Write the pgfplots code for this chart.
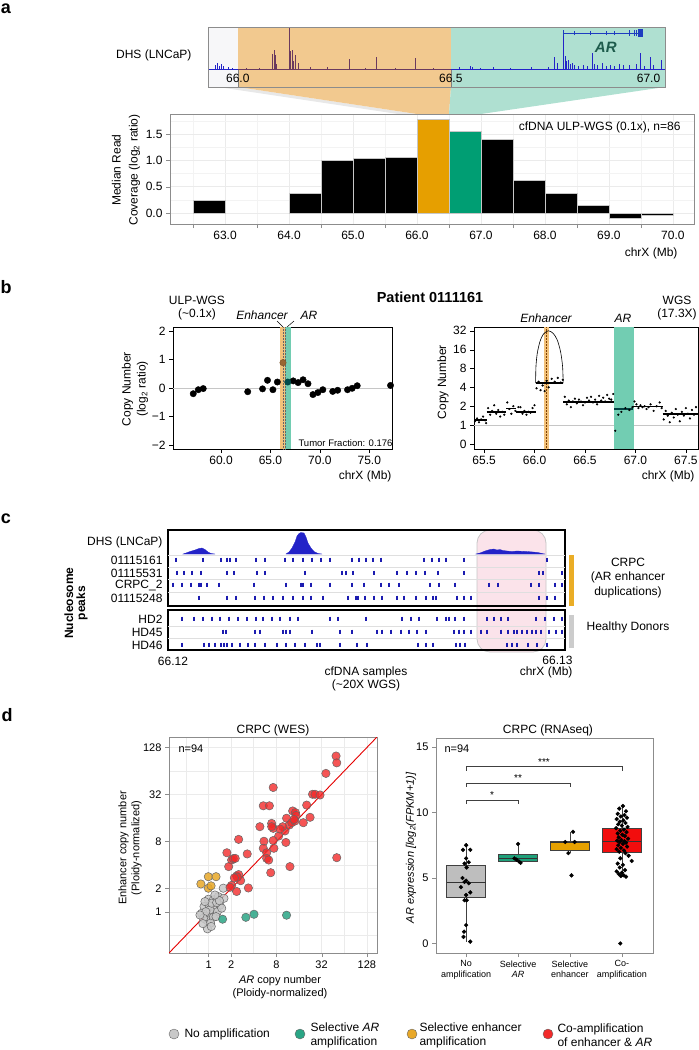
\documentclass[border=0pt]{standalone}
\usepackage{fontspec}
\setmainfont{Liberation Sans}
\setsansfont{Liberation Sans}
\usepackage{pgfplots}
\pgfplotsset{compat=1.18}
\newcommand{\fs}[2]{\fontsize{#1}{#2}\selectfont}
\definecolor{dhsblue}{HTML}{2323C8}
\definecolor{dhspurple}{HTML}{6B3A5E}
\definecolor{ofill}{HTML}{F2C98F}
\definecolor{tfill}{HTML}{AFE0D1}
\definecolor{wfill}{HTML}{F7F7F9}
\definecolor{barO}{HTML}{E69F00}
\definecolor{barT}{HTML}{009E73}
\definecolor{genecol}{HTML}{1E3CC0}
\definecolor{artext}{HTML}{1E5C4C}
\definecolor{stripO}{HTML}{F3C27A}
\definecolor{stripT}{HTML}{72CDB2}
\definecolor{nucblue}{HTML}{1C1CB0}
\definecolor{pinkfill}{HTML}{FBE3EA}
\definecolor{scGrey}{HTML}{C8C8C8}
\definecolor{scTeal}{HTML}{2AA585}
\definecolor{scOrange}{HTML}{E8A828}
\definecolor{scRed}{HTML}{F22A2A}
\definecolor{boxGrey}{HTML}{BEBEBE}
\definecolor{boxTeal}{HTML}{1FA07A}
\definecolor{boxOrange}{HTML}{E6A100}
\definecolor{boxRed}{HTML}{F20D0D}
\definecolor{frameGrey}{HTML}{8C8C8C}
\definecolor{gridGrey}{HTML}{EBEBEB}
\pgfplotsset{every axis/.append style={
  tick label style={font=\fs{12}{14}},
  tick align=outside, tick pos=left,
  major tick length=4pt,
  /pgf/number format/assume math mode=true}}
\newcommand{\pbar}[4]{\addplot[fill=#4, draw=black!22, line width=0.4pt] coordinates {(#1,0)(#1,#3)(#2,#3)(#2,0)} --cycle;}
% box: left, right, centre, lower whisker, q1, median, q3, upper whisker, colour
\newcommand{\mybox}[9]{%
 \addplot[black!75, line width=0.7pt] coordinates {(#3,#4)(#3,#5)};
 \addplot[black!75, line width=0.7pt] coordinates {(#3,#7)(#3,#8)};
 \addplot[fill=#9, draw=black!75, line width=0.7pt] coordinates {(#1,#5)(#1,#7)(#2,#7)(#2,#5)} --cycle;
 \addplot[black!80, line width=1.3pt] coordinates {(#1,#6)(#2,#6)};}
\begin{document}
\begin{tikzpicture}
\useasboundingbox (0pt,0pt) rectangle (699pt,-1050pt);
\begin{scope}[x=1pt,y=-1pt]
 \fill[gray!18] (218,87) -- (238,87) -- (417,114) -- (398,114) -- cycle;
 \fill[ofill] (238,87) -- (451,87) -- (449,114) -- (417,114) -- cycle;
 \fill[tfill] (451,87) -- (665,87) -- (481,114) -- (449,114) -- cycle;
 \draw[gray!45, fill=pinkfill, line width=0.8pt, rounded corners=13pt] (477,530) rectangle (546,652);
 \fill[barO!85] (569,555) rectangle (574,606);
 \fill[gray!40] (569,615) rectangle (574,648);
\end{scope}

% ---------- panel a: DHS track
\begin{axis}[at={(208pt,-27pt)}, anchor=north west, scale only axis, width=457pt, height=60pt,
  xmin=65.93, xmax=67.003, ymin=-0.43, ymax=1, ticks=none,
  axis line style={frameGrey, line width=0.9pt}, axis on top]
\addplot[fill=wfill, draw=none] coordinates {(65.93,-0.43)(65.93,1)(66,1)(66,-0.43)} --cycle;
\addplot[fill=ofill, draw=none] coordinates {(66,-0.43)(66,1)(66.5,1)(66.5,-0.43)} --cycle;
\addplot[fill=tfill, draw=none] coordinates {(66.5,-0.43)(66.5,1)(67.003,1)(67.003,-0.43)} --cycle;
\addplot[gray, line width=0.5pt] coordinates {(66,-0.43)(66,0)};
\addplot[gray, line width=0.5pt] coordinates {(66.5,-0.43)(66.5,0)};
\addplot[dhsblue, line width=0.6pt] coordinates {(65.93,0)(66,0)};
\addplot[dhspurple, line width=0.6pt] coordinates {(66,0)(66.5,0)};
\addplot[dhsblue, line width=0.6pt] coordinates {(66.5,0)(67.003,0)};
\addplot[ycomb, dhsblue, line width=0.6pt] coordinates {(65.948,0.10)(65.953,0.14)(65.957,0.08)(65.962,0.12)(65.967,0.06)(65.977,0.05)(65.988,0.03)};
\addplot[ycomb, dhspurple, line width=0.7pt] coordinates {(66.02,0.02)(66.05,0.02)(66.082,0.36)(66.085,0.45)(66.087,0.33)(66.09,0.12)(66.12,1.0)(66.122,0.55)(66.124,0.42)(66.127,0.45)(66.131,0.2)(66.136,0.33)(66.143,0.14)(66.17,0.04)(66.21,0.04)(66.263,0.24)(66.30,0.03)(66.326,0.28)(66.37,0.03)(66.418,0.25)(66.46,0.03)};
\addplot[ycomb, dhsblue, line width=0.6pt] coordinates {(66.52,0.04)(66.545,0.06)(66.55,0.05)(66.57,0.03)(66.60,0.04)(66.64,0.03)(66.69,0.04)(66.73,0.05)(66.742,0.28)(66.749,0.14)(66.765,0.857)(66.768,0.3)(66.771,0.18)(66.775,0.22)(66.78,0.12)(66.786,0.15)(66.79,0.1)(66.80,0.08)(66.81,0.1)(66.82,0.07)(66.833,0.38)(66.838,0.12)(66.845,0.1)(66.855,0.14)(66.865,0.08)(66.875,0.1)(66.885,0.07)(66.895,0.12)(66.905,0.09)(66.92,0.1)(66.935,0.12)(66.944,0.38)(66.955,0.08)(66.969,0.28)(66.975,0.1)(66.995,0.22)};
\addplot[genecol, line width=1pt] coordinates {(66.765,0.857)(66.948,0.857)};
\addplot[genecol, line width=0.8pt, unbounded coords=jump] coordinates {(66.765,0.79)(66.765,0.93)(66.765,nan)(66.79,0.80)(66.79,0.91)(66.79,nan)(66.828,0.80)(66.828,0.91)(66.828,nan)(66.865,0.80)(66.865,0.91)(66.865,nan)(66.884,0.80)(66.884,0.91)(66.884,nan)(66.92,0.79)(66.92,0.92)(66.92,nan)(66.93,0.78)(66.93,0.93)(66.93,nan)(66.937,0.78)(66.937,0.93)};
\addplot[fill=genecol, draw=genecol] coordinates {(66.94,0.77)(66.94,0.94)(66.95,0.94)(66.95,0.77)} --cycle;
\node[font=\bfseries\itshape\fs{15}{15}, text=artext] at (axis cs:66.864,0.524) {AR};
\node[font=\fs{12}{14}] at (axis cs:66.0,-0.214) {66.0};
\node[font=\fs{12}{14}] at (axis cs:66.5,-0.214) {66.5};
\node[font=\fs{12}{14}, anchor=east] at (axis cs:67.0,-0.214) {67.0};
\end{axis}

% ---------- panel a: bar chart
\begin{axis}[at={(170pt,-114pt)}, anchor=north west, scale only axis, width=524pt, height=110pt,
  xmin=62.14, xmax=70.33, ymin=-0.21, ymax=1.88,
  xtick={63,64,65,66,67,68,69,70}, minor xtick={62.5,63.5,64.5,65.5,66.5,67.5,68.5,69.5},
  ytick={0,0.5,1,1.5}, minor ytick={0.25,0.75,1.25,1.75},
  xticklabel style={/pgf/number format/.cd, fixed, fixed zerofill, precision=1},
  yticklabel style={/pgf/number format/.cd, fixed, fixed zerofill, precision=1},
  major x tick style={draw=none}, minor x tick style={frameGrey}, minor y tick style={draw=none},
  y tick style={frameGrey}, minor tick length=4pt,
  xmajorgrids, xminorgrids, ymajorgrids, yminorgrids,
  major grid style={gridGrey, line width=0.5pt}, minor grid style={gridGrey!60, line width=0.4pt},
  axis line style={frameGrey, line width=0.8pt}]
\pbar{62.5}{63.0}{0.25}{black}
\pbar{64.0}{64.5}{0.38}{black}
\pbar{64.5}{65.0}{1.01}{black}
\pbar{65.0}{65.5}{1.04}{black}
\pbar{65.5}{66.0}{1.05}{black}
\pbar{66.0}{66.5}{1.78}{barO}
\pbar{66.5}{67.0}{1.56}{barT}
\pbar{67.0}{67.5}{1.41}{black}
\pbar{67.5}{68.0}{0.62}{black}
\pbar{68.0}{68.5}{0.38}{black}
\pbar{68.5}{69.0}{0.15}{black}
\pbar{69.0}{69.5}{-0.10}{black}
\pbar{69.5}{70.0}{-0.04}{black}
\end{axis}

% ---------- panel b: ULP-WGS
\begin{axis}[at={(173pt,-327pt)}, anchor=north west, scale only axis, width=219pt, height=122pt,
  xmin=55.14, xmax=77.3, ymin=-2.14, ymax=2.14,
  xtick={60,65,70,75}, ytick={-2,-1,0,1,2}, yticklabels={−2,−1,0,1,2},
  xticklabel style={/pgf/number format/.cd, fixed, fixed zerofill, precision=1},
  axis line style={black, line width=0.8pt}, tick style={black}]
\addplot[gray!45, line width=0.6pt] coordinates {(55.14,0)(77.3,0)};
\addplot[fill=stripO, draw=none] coordinates {(66.0,-2.14)(66.0,2.14)(66.5,2.14)(66.5,-2.14)} --cycle;
\addplot[fill=stripT, draw=none] coordinates {(66.5,-2.14)(66.5,2.14)(67.1,2.14)(67.1,-2.14)} --cycle;
\addplot[densely dotted, black!60, line width=0.5pt] coordinates {(66.25,-2.14)(66.25,2.14)};
\addplot[densely dotted, black!60, line width=0.5pt] coordinates {(66.5,-2.14)(66.5,2.14)};
\addplot[only marks, mark=*, mark size=3.2pt, mark options={fill=black, draw=black}] coordinates {
(57.19,-0.2)(57.7,-0.06)(58.2,-0.02)(62.7,-0.13)(64.2,-0.03)(64.7,0.27)(65.25,-0.06)(65.7,0.21)
(67.3,0.25)(67.8,0.19)(68.3,0.29)(68.8,0.15)(69.3,-0.23)(69.8,-0.16)(70.3,-0.06)(71.3,-0.12)
(71.8,-0.08)(72.8,-0.06)(73.27,-0.01)(73.78,0.08)(77.15,0.09)};
\addplot[only marks, mark=*, mark size=3.2pt, mark options={fill=brown!80!black, draw=brown!60!black}] coordinates {(66.27,0.89)};
\addplot[only marks, mark=*, mark size=3.2pt, mark options={fill=teal!60!black, draw=teal!50!black}] coordinates {(66.75,0.21)};
\end{axis}

% ---------- panel b: WGS
\begin{axis}[at={(474pt,-327pt)}, anchor=north west, scale only axis, width=224pt, height=122pt,
  xmin=65.40, xmax=67.62, ymin=-1.27, ymax=5.2,
  xtick={65.5,66,66.5,67,67.5}, ytick={-1,0,1,2,3,4,5}, yticklabels={0,1,2,4,8,16,32},
  xticklabel style={/pgf/number format/.cd, fixed, fixed zerofill, precision=1},
  axis line style={black, line width=0.8pt}, tick style={black}]
\addplot[gray!45, line width=0.6pt] coordinates {(65.40,0)(67.62,0)};
\addplot[fill=stripO, draw=none] coordinates {(66.093,-1.27)(66.093,5.2)(66.146,5.2)(66.146,-1.27)} --cycle;
\addplot[densely dotted, orange!50!black, line width=0.5pt] coordinates {(66.1195,-1.27)(66.1195,5.2)};
\addplot[fill=stripT, draw=none] coordinates {(66.786,-1.27)(66.786,5.2)(66.984,5.2)(66.984,-1.27)} --cycle;
\addplot[only marks, mark=*, mark size=0.9pt, mark options={fill=black, draw=black}] coordinates {
(65.41,0.2)(65.43,0.35)(65.45,0.15)(65.47,0.3)(65.49,0.45)(65.51,0.25)(65.52,0.1)
(65.54,0.9)(65.56,0.55)(65.58,0.75)(65.60,1.05)(65.62,0.6)(65.64,0.8)(65.66,0.45)(65.68,0.7)(65.70,0.55)
(65.73,1.2)(65.75,0.85)(65.77,0.6)(65.79,1.0)(65.81,0.75)
(65.84,0.95)(65.86,0.95)(65.88,0.6)(65.90,0.75)(65.92,0.55)(65.94,0.7)(65.96,0.65)(65.98,0.9)(66.0,1.05)
(66.02,1.95)(66.04,2.3)(66.06,1.85)(66.08,2.1)(66.10,1.8)(66.12,2.35)(66.14,2.0)(66.17,2.45)(66.20,2.3)(66.23,2.5)(66.26,2.25)(66.28,2.4)
(66.30,1.5)(66.32,1.1)(66.34,1.3)(66.36,0.95)(66.38,1.25)(66.40,1.4)(66.42,1.15)(66.44,1.35)(66.46,1.25)(66.48,1.05)(66.50,1.2)(66.52,1.45)(66.54,1.3)(66.56,1.5)(66.58,1.2)(66.60,1.35)(66.62,1.1)(66.64,1.55)(66.66,1.3)(66.68,1.45)(66.70,1.25)(66.72,1.6)(66.74,1.4)(66.76,1.35)(66.78,1.65)
(66.80,-0.3)(66.83,0.55)(66.86,0.7)(66.90,0.9)(66.94,0.8)(66.97,0.95)
(66.99,1.25)(67.01,1.1)(67.03,0.9)(67.05,1.05)(67.07,0.95)(67.09,1.0)(67.11,0.85)(67.13,0.95)(67.15,1.1)(67.18,0.75)(67.21,1.0)(67.24,1.2)(67.26,0.9)
(67.28,0.3)(67.30,0.75)(67.32,0.5)(67.34,0.15)(67.36,0.65)(67.38,0.4)(67.40,0.85)(67.42,0.55)(67.44,0.2)(67.46,0.7)(67.48,0.5)(67.50,0.9)(67.52,0.6)(67.54,0.35)(67.56,0.8)(67.58,0.55)(67.60,0.95)};
\addplot[black, line width=1.6pt, unbounded coords=jump] coordinates {
(65.40,0.28)(65.525,0.28)(65.525,nan)(65.525,0.69)(65.72,0.69)(65.72,nan)(65.72,0.88)(65.82,0.88)(65.82,nan)
(65.82,0.69)(66.01,0.69)(66.01,nan)(66.01,2.22)(66.285,2.22)(66.285,nan)(66.285,1.23)(66.79,1.23)(66.79,nan)
(66.98,0.99)(67.27,0.99)(67.27,nan)(67.27,0.6)(67.62,0.6)};
\addplot[teal!50!black, line width=1.6pt] coordinates {(66.79,0.85)(66.98,0.85)};
\addplot[black, line width=0.6pt, smooth] coordinates {(66.0106,2.22)(66.014,3.10)(66.027,3.80)(66.053,4.42)(66.086,4.81)(66.136,5.0)(66.185,4.86)(66.225,4.51)(66.258,3.89)(66.278,3.10)(66.284,2.22)};
\end{axis}

% ---------- panel c
\begin{axis}[at={(168pt,-530pt)}, anchor=north west, scale only axis, width=397pt, height=76pt,
  xmin=168, xmax=565, ymin=-606, ymax=-530, ticks=none, axis line style={black, line width=1.3pt}]
\addplot[gray!25, line width=0.5pt] coordinates {(168,-555)(565,-555)};
\addplot[gray!25, line width=0.5pt] coordinates {(168,-567)(565,-567)};
\addplot[gray!25, line width=0.5pt] coordinates {(168,-579)(565,-579)};
\addplot[gray!25, line width=0.5pt] coordinates {(168,-592)(565,-592)};
\addplot[fill=dhsblue, draw=dhsblue, line width=0.3pt] coordinates {(183,-554)(186,-553)(190,-551.5)(195,-550)(199,-548.5)(202,-548)(205,-549.5)(208,-552)(211,-553.5)(215,-554)} --cycle;
\addplot[fill=dhsblue, draw=dhsblue, line width=0.3pt] coordinates {(286,-554)(289,-552)(292,-548)(295,-542)(297,-536)(299,-533.5)(301,-532.5)(304,-533)(306,-537)(308,-543)(311,-548)(314,-551.5)(318,-553.5)(322,-554)} --cycle;
\addplot[fill=dhsblue, draw=dhsblue, line width=0.3pt] coordinates {(476,-554)(480,-553)(485,-551)(490,-549.5)(494,-549)(497,-550)(500,-549.5)(503,-550.5)(507,-551)(512,-551.5)(517,-551)(522,-551.3)(527,-551.5)(533,-552)(538,-552.5)(542,-553.5)(545,-554)} --cycle;
\addplot[only marks, mark=|, mark size=2.4pt, mark options={nucblue, line width=1.7pt}] coordinates {
(176,-560)(203,-560)(221,-560)(227,-560)(230,-560)(236,-560)(256,-560)(265,-560)(285,-560)(293,-560)(303,-560)(312,-560)(321,-560)(330,-560)(352,-560)(359,-560)(366,-560)(373,-560)(381,-560)(424,-560)(432,-560)(439,-560)(446,-560)(464,-560)(547,-560)
(177,-573)(184,-573)(192,-573)(201,-573)(227,-573)(234,-573)(257,-573)(265,-573)(305,-573)(342,-573)(346,-573)(353,-573)(374,-573)(397,-573)(407,-573)(416,-573)(425,-573)(438,-573)(464,-573)(539,-573)(543,-573)(562,-573)
(173,-585)(182,-585)(191,-585)(199,-585)(201,-585)(207,-585)(219,-585)(254,-585)(286,-585)(301,-585)(303,-585)(311,-585)(330,-585)(352,-585)(364,-585)(381,-585)(389,-585)(399,-585)(430,-585)(439,-585)(455,-585)(489,-585)(498,-585)(531,-585)(539,-585)(555,-585)(562,-585)
(199,-598)(227,-598)(236,-598)(255,-598)(264,-598)(273,-598)(283,-598)(293,-598)(303,-598)(311,-598)(323,-598)(348,-598)(356,-598)(358,-598)(365,-598)(374,-598)(382,-598)(397,-598)(404,-598)(416,-598)(426,-598)(433,-598)(436,-598)(457,-598)(464,-598)(471,-598)(539,-598)(547,-598)(555,-598)};
\end{axis}
\begin{axis}[at={(168pt,-610pt)}, anchor=north west, scale only axis, width=397pt, height=40pt,
  xmin=168, xmax=565, ymin=-650, ymax=-610, ticks=none, axis line style={black, line width=1.3pt}]
\addplot[gray!25, line width=0.5pt] coordinates {(168,-626)(565,-626)};
\addplot[gray!25, line width=0.5pt] coordinates {(168,-638)(565,-638)};
\addplot[only marks, mark=|, mark size=2.4pt, mark options={nucblue, line width=1.7pt}] coordinates {
(182,-619)(194,-619)(203,-619)(212,-619)(220,-619)(229,-619)(238,-619)(247,-619)(256,-619)(263,-619)(272,-619)(280,-619)(290,-619)(298,-619)(330,-619)(338,-619)(366,-619)(402,-619)(411,-619)(419,-619)(437,-619)(446,-619)(449,-619)(455,-619)(464,-619)(487,-619)(494,-619)(501,-619)(508,-619)(536,-619)(545,-619)(554,-619)(562,-619)
(223,-632)(226,-632)(255,-632)(260,-632)(283,-632)(286,-632)(290,-632)(312,-632)(340,-632)(352,-632)(377,-632)(382,-632)(391,-632)(401,-632)(409,-632)(417,-632)(426,-632)(454,-632)(459,-632)(464,-632)(471,-632)(481,-632)(487,-632)(501,-632)(508,-632)(514,-632)(517,-632)(522,-632)(527,-632)(532,-632)(536,-632)(541,-632)(549,-632)(556,-632)(562,-632)
(182,-645)(204,-645)(209,-645)(215,-645)(221,-645)(224,-645)(227,-645)(232,-645)(240,-645)(248,-645)(255,-645)(265,-645)(277,-645)(286,-645)(295,-645)(305,-645)(317,-645)(320,-645)(340,-645)(357,-645)(367,-645)(418,-645)(426,-645)(433,-645)(456,-645)(460,-645)(465,-645)(507,-645)(512,-645)(517,-645)(528,-645)(537,-645)(547,-645)};
\end{axis}

% ---------- panel d: scatter
\begin{axis}[at={(169pt,-737pt)}, anchor=north west, scale only axis, width=208pt, height=216pt,
  xmin=-1.75, xmax=7.45, ymin=-1.75, ymax=7.45,
  xtick={0,1,3,5,7}, xticklabels={1,2,8,32,128}, ytick={0,1,3,5,7}, yticklabels={1,2,8,32,128},
  minor xtick={-1,2,4,6}, minor ytick={-1,2,4,6}, minor tick length=0pt,
  grid=both, major grid style={gridGrey, line width=0.6pt}, minor grid style={gridGrey, line width=0.6pt},
  tick label style={font=\fs{11}{13}},
  axis line style={frameGrey, line width=0.8pt}, tick style={frameGrey}]
\addplot[red!90!black, line width=0.9pt] coordinates {(-1.75,-1.75)(7.45,7.45)};
\addplot[only marks, mark=*, mark size=4.2pt, mark options={fill=scGrey, fill opacity=0.85, draw=black!60, line width=0.5pt}] coordinates {
(-0.01,0.54)(0.21,0.51)(0.43,0.65)(0.68,0.58)(-0.20,0.23)(0.03,0.26)(0.28,0.16)(0.50,0.28)(-0.31,-0.06)(-0.09,-0.17)
(0.17,-0.09)(0.39,0.01)(-0.06,-0.37)(0.21,-0.23)(0.06,0.09)(-0.12,0.01)(0.33,-0.20)(0.58,0.16)(0.14,0.37)(-0.16,0.44)
(0.36,0.40)(0.09,-0.48)(-0.23,-0.27)(0.48,0.48)(0.28,0.72)(-0.38,-0.13)(0.65,1.01)(-0.05,-0.72)(0.12,-0.62)(-0.25,-0.5)};
\addplot[only marks, mark=*, mark size=4.2pt, mark options={fill=scOrange, fill opacity=0.85, draw=black!60, line width=0.5pt}] coordinates {
(-0.01,1.50)(0.33,1.50)(-0.34,1.19)(-0.01,1.01)(0.11,1.11)};
\addplot[only marks, mark=*, mark size=4.2pt, mark options={fill=scTeal, fill opacity=0.85, draw=black!60, line width=0.5pt}] coordinates {
(0.62,-0.31)(1.65,-0.23)(2.01,-0.10)(3.45,-0.14)};
\addplot[only marks, mark=*, mark size=4.2pt, mark options={fill=scRed, fill opacity=0.8, draw=black!60, line width=0.5pt}] coordinates {
(5.64,6.64)(5.67,6.35)(5.19,5.90)(2.86,5.30)(4.60,5.01)(4.71,5.01)(4.93,4.98)(2.42,4.52)(2.69,4.52)(4.34,4.55)
(3.72,4.30)(3.84,4.23)(3.87,4.11)(3.45,3.99)(4.49,4.03)(2.27,3.63)(2.79,3.77)(2.86,3.56)(3.10,3.23)(3.38,3.45)
(3.57,3.70)(3.68,3.80)(3.82,3.87)(4.19,3.80)(3.78,3.94)(2.45,3.01)(2.86,3.04)(3.42,2.96)(2.42,2.71)(2.89,2.71)
(2.57,2.52)(2.57,2.28)(2.66,2.21)(1.71,2.47)(1.33,3.09)(0.81,2.52)(1.02,2.21)(1.09,2.27)(1.18,2.28)(0.89,1.93)
(3.60,1.93)(2.75,1.67)(1.24,1.53)(1.33,1.59)(1.42,1.33)(1.76,1.02)(1.02,1.13)(1.24,0.87)(0.95,1.05)(5.67,2.31)
(1.27,1.48)(1.14,1.45)(2.79,3.63)(3.28,3.63)(3.16,3.53)};
\end{axis}

% ---------- panel d: boxplot
\begin{axis}[at={(436pt,-738pt)}, anchor=north west, scale only axis, width=217pt, height=215pt,
  xmin=0.42, xmax=4.6, ymin=-0.73, ymax=15.69,
  xtick={1,2,3,4}, xticklabels={{No\\amplification},{Selective\\\textit{AR}},{Selective\\enhancer},{Co-\\amplification}},
  xticklabel style={align=center, font=\fs{9}{10.5}},
  ytick={0,5,10,15}, yticklabel style={font=\fs{11}{13}},
  axis line style={frameGrey, line width=0.8pt}, tick style={frameGrey}]
\mybox{0.625}{1.375}{1}{0.14}{3.5}{4.67}{6.0}{7.65}{boxGrey}
\mybox{1.625}{2.375}{2}{6.15}{6.25}{6.5}{6.83}{7.6}{boxTeal}
\mybox{2.625}{3.375}{3}{6.9}{7.1}{7.7}{7.77}{8.53}{boxOrange}
\mybox{3.625}{4.375}{4}{5.1}{6.96}{7.77}{8.79}{10.5}{boxRed}
\addplot[only marks, mark=*, mark size=1.9pt, mark options={fill=black, draw=black}] coordinates {
(1.0,7.5)(0.94,7.15)(1.08,7.15)(1.0,6.5)(0.97,6.1)(1.05,6.2)(1.01,5.8)(0.93,5.0)(1.0,4.8)(0.97,4.7)
(1.05,4.6)(0.9,4.3)(1.08,3.9)(1.0,3.7)(1.01,3.3)(0.97,3.3)(1.0,1.4)(0.96,0.9)(0.95,0.5)(1.08,0.14)
(2.0,7.6)(1.93,6.5)(2.02,6.25)(1.97,6.4)(2.05,6.15)
(3.06,8.53)(2.91,7.75)(3.09,7.75)(2.97,6.9)(3.03,5.2)
(4.02,10.5)(3.95,10.3)(4.08,10.1)(3.92,9.9)(4.05,9.8)(3.98,9.7)(4.10,9.6)(3.90,9.5)(4.03,9.4)(3.96,9.3)
(4.07,9.2)(3.93,9.1)(4.0,9.0)(4.11,8.9)(3.89,8.8)(4.04,8.7)(3.97,8.6)(4.09,8.5)(3.92,8.4)(4.01,8.3)
(4.06,8.2)(3.94,8.1)(4.12,8.0)(3.99,7.9)(3.91,7.85)(4.05,7.8)(3.96,7.75)(4.08,7.7)(4.02,7.6)(3.93,7.5)
(4.1,7.4)(3.98,7.3)(3.9,7.2)(4.04,7.1)(3.95,7.0)(4.07,6.9)(4.13,6.7)(3.97,6.5)(4.19,6.3)(3.92,6.1)
(4.02,6.0)(3.96,5.8)(4.06,5.6)(3.9,5.5)(4.0,5.4)(3.94,5.3)(4.04,5.2)(3.98,5.15)(4.08,5.1)(3.97,0.0)};
\addplot[black!75, line width=0.7pt] coordinates {(1,10.65)(1,10.95)(2,10.95)(2,10.65)};
\addplot[black!75, line width=0.7pt] coordinates {(1,11.95)(1,12.25)(3,12.25)(3,11.95)};
\addplot[black!75, line width=0.7pt] coordinates {(1,13.2)(1,13.5)(4,13.5)(4,13.2)};
\node[font=\fs{10}{10}, anchor=south, inner sep=1pt] at (axis cs:1.5,10.95) {*};
\node[font=\fs{10}{10}, anchor=south, inner sep=1pt] at (axis cs:2,12.25) {**};
\node[font=\fs{10}{10}, anchor=south, inner sep=1pt] at (axis cs:2.5,13.5) {***};
\end{axis}

\begin{scope}[x=1pt,y=-1pt]
 % panel letters
 \node[font=\bfseries\fs{18}{18}] at (6,9) {a};
 \node[font=\bfseries\fs{18}{18}] at (6,287) {b};
 \node[font=\bfseries\fs{18}{18}] at (6,519) {c};
 \node[font=\bfseries\fs{18}{18}] at (7,715) {d};
 % panel a
 \node[anchor=east, font=\fs{12}{14}] at (195,55) {DHS (LNCaP)};
 \node[rotate=90, align=center, font=\fs{12}{17}] at (126,170) {Median Read\\Coverage (log\textsubscript{2} ratio)};
 \node[anchor=east, font=\fs{12}{14}] at (684,127) {cfDNA ULP-WGS (0.1x), n=86};
 \node[anchor=east, font=\fs{12}{14}] at (681,253) {chrX (Mb)};
 % panel b
 \node[font=\bfseries\fs{14.5}{16}] at (430,297) {Patient 0111161};
 \node[align=center, font=\fs{12}{13.5}] at (197,308) {ULP-WGS\\(\textasciitilde0.1x)};
 \node[font=\itshape\fs{12}{14}] at (262,315) {Enhancer};
 \node[font=\itshape\fs{12}{14}] at (309,315) {AR};
 \draw[line width=0.5pt] (277,321) -- (283,327) (294,321) -- (287,327);
 \node[rotate=90, align=center, font=\fs{12}{15}] at (135,389) {Copy Number\\(log\textsubscript{2} ratio)};
 \node[anchor=west, font=\fs{9.5}{11}] at (295,443) {Tumor Fraction: 0.176};
 \node[anchor=east, font=\fs{12}{14}] at (395,476) {chrX (Mb)};
 \node[align=center, font=\fs{12}{13.5}] at (677,308) {WGS\\(17.3X)};
 \node[font=\itshape\fs{12}{14}] at (546,318) {Enhancer};
 \node[font=\itshape\fs{12}{14}] at (623,318) {AR};
 \node[rotate=90, font=\fs{12}{14}] at (443,382) {Copy Number};
 \node[anchor=east, font=\fs{12}{14}] at (698,476) {chrX (Mb)};
 % panel c
 \node[anchor=east, font=\fs{12}{14}] at (166,542) {DHS (LNCaP)};
 \node[anchor=east, font=\fs{12}{14}] at (166,560) {01115161};
 \node[anchor=east, font=\fs{12}{14}] at (166,573) {01115531};
 \node[anchor=east, font=\fs{12}{14}] at (166,585) {CRPC\_2};
 \node[anchor=east, font=\fs{12}{14}] at (166,598) {01115248};
 \node[anchor=east, font=\fs{12}{14}] at (166,619) {HD2};
 \node[anchor=east, font=\fs{12}{14}] at (166,632) {HD45};
 \node[anchor=east, font=\fs{12}{14}] at (166,645) {HD46};
 \node[rotate=90, align=center, font=\bfseries\fs{12}{12}] at (76,603) {Nucleosome\\peaks};
 \node[font=\fs{12}{14}] at (173,661) {66.12};
 \node[anchor=east, font=\fs{12}{14}] at (576,660) {66.13};
 \node[anchor=east, font=\fs{12}{14}] at (576,672) {chrX (Mb)};
 \node[align=center, font=\fs{12}{13.5}] at (366,679) {cfDNA samples\\(\textasciitilde20X WGS)};
 \node[align=center, font=\fs{12}{14.5}] at (628,578) {CRPC\\(AR enhancer\\duplications)};
 \node[font=\fs{12}{14}] at (628,627) {Healthy Donors};
 % panel d
 \node[font=\fs{12}{14}] at (273,730) {CRPC (WES)};
 \node[font=\fs{12}{14}] at (548,730) {CRPC (RNAseq)};
 \node[anchor=west, font=\fs{11}{13}] at (175,749) {n=94};
 \node[anchor=west, font=\fs{11}{13}] at (441,749) {n=94};
 \node[rotate=90, align=center, font=\fs{11}{13}] at (130,848) {Enhancer copy number\\(Ploidy-normalized)};
 \node[align=center, font=\fs{11}{13}] at (280,987) {\textit{AR} copy number\\(Ploidy-normalized)};
 \node[rotate=90, font=\itshape\fs{11}{13}] at (411,848) {AR expression [log\textsubscript{2}(FPKM+1)]};
 % legend
 \draw[black!60, fill=scGrey] (174,1034) circle (5);
 \node[anchor=west, font=\fs{12}{14}] at (181,1034) {No amplification};
 \draw[black!60, fill=scTeal] (300,1034) circle (5);
 \node[anchor=west, align=left, font=\fs{12}{14}] at (307,1035) {Selective \textit{AR}\\amplification};
 \draw[black!60, fill=scOrange] (412,1034) circle (5);
 \node[anchor=west, align=left, font=\fs{12}{14}] at (416,1035) {Selective enhancer\\amplification};
 \draw[black!60, fill=scRed] (548,1034) circle (5);
 \node[anchor=west, align=left, font=\fs{12}{14}] at (554,1035) {Co-amplification\\of enhancer \& \textit{AR}};
\end{scope}
\end{tikzpicture}
\end{document}
